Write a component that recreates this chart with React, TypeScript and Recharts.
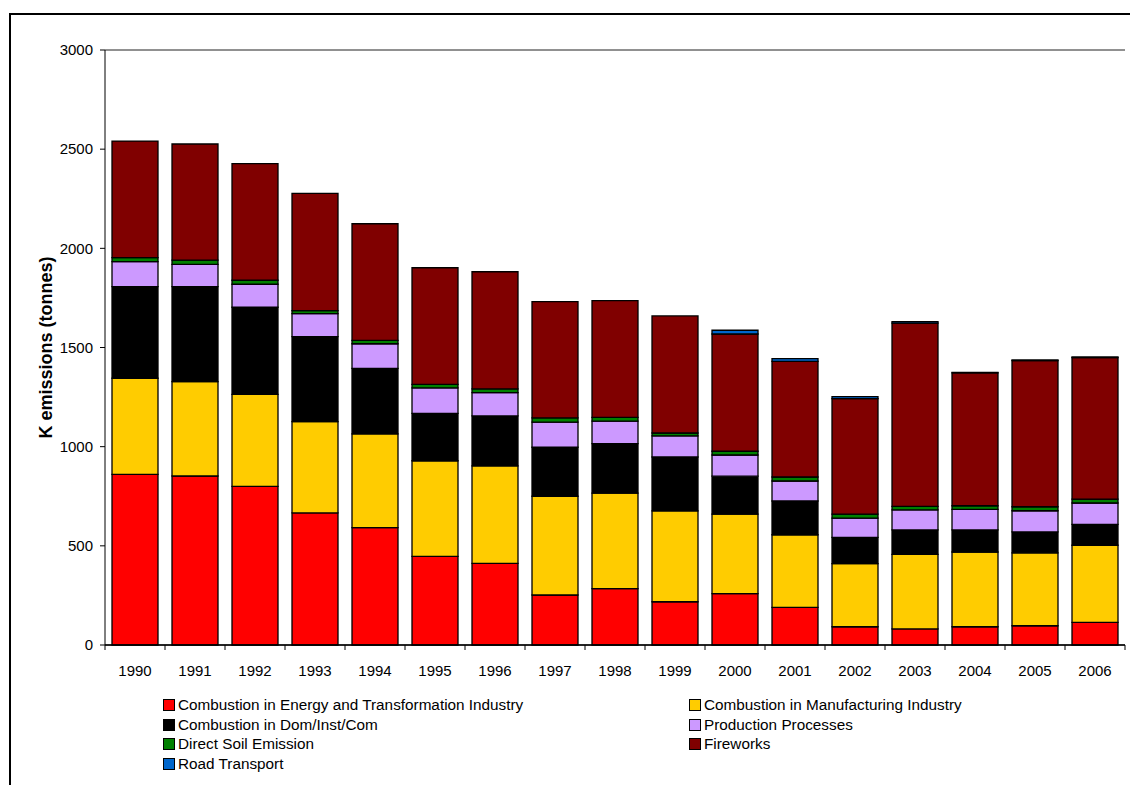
import React from "react";
import {
  BarChart,
  Bar,
  XAxis,
  YAxis,
  CartesianGrid,
  Legend,
} from "recharts";

const years = ["1990","1991","1992","1993","1994","1995","1996","1997","1998","1999","2000","2001","2002","2003","2004","2005","2006"];
const energy = [860, 852, 800, 666, 592, 447, 412, 252, 284, 218, 259, 190, 92, 81, 92, 97, 114];
const manufacturing = [485, 476, 464, 460, 472, 482, 491, 498, 482, 458, 401, 366, 318, 376, 377, 368, 389];
const domestic = [462, 479, 439, 429, 331, 239, 252, 247, 249, 272, 191, 170, 133, 123, 111, 105, 105];
const production = [126, 112, 116, 116, 124, 128, 117, 127, 114, 106, 107, 101, 97, 101, 104, 107, 108];
const soil = [20, 22, 20, 15, 17, 18, 19, 21, 19, 15, 19, 20, 20, 18, 18, 20, 19];
const fireworks = [588, 585, 588, 591, 588, 588, 591, 586, 588, 590, 591, 583, 582, 924, 670, 737, 714];
const road = [0, 0, 0, 0, 0, 0, 0, 0, 0, 0, 19, 14, 10, 7, 3, 3, 3];
const yTicks = [0, 500, 1000, 1500, 2000, 2500, 3000];

const series = [
  { key: "energy", name: "Combustion in Energy and Transformation Industry", color: "#FF0000", values: energy },
  { key: "manufacturing", name: "Combustion in Manufacturing Industry", color: "#FFCC00", values: manufacturing },
  { key: "domestic", name: "Combustion in Dom/Inst/Com", color: "#000000", values: domestic },
  { key: "production", name: "Production Processes", color: "#CC99FF", values: production },
  { key: "soil", name: "Direct Soil Emission", color: "#008000", values: soil },
  { key: "fireworks", name: "Fireworks", color: "#800000", values: fireworks },
  { key: "road", name: "Road Transport", color: "#0066CC", values: road },
];

const data = years.map((y, i) => {
  const row: any = { year: y };
  series.forEach((s) => (row[s.key] = s.values[i]));
  return row;
});

const FONT = "'Liberation Sans', Arial, sans-serif";

const XTick = (props: any) => {
  const { x, y, payload, index } = props;
  const half = 30;
  return (
    <g>
      <line x1={x - half} y1={y - 8} x2={x - half} y2={y - 3} stroke="#000" strokeWidth={1} />
      {index === years.length - 1 && (
        <line x1={x + half} y1={y - 8} x2={x + half} y2={y - 3} stroke="#000" strokeWidth={1} />
      )}
      <text x={x} y={y + 23} textAnchor="middle" fontSize={15} fill="#000" fontFamily={FONT}>
        {payload.value}
      </text>
    </g>
  );
};

const colWidths = [526, 420];

const renderLegend = () => {
  const rows: any[] = [];
  for (let i = 0; i < series.length; i += 2) rows.push(series.slice(i, i + 2));
  return (
    <div style={{ fontFamily: FONT, fontSize: 15.3, color: "#000", lineHeight: "19.7px" }}>
      {rows.map((r, ri) => (
        <div key={ri} style={{ display: "flex", height: 19.7, alignItems: "center" }}>
          {r.map((s: any, ci: number) => (
            <div key={s.key} style={{ width: colWidths[ci], flexShrink: 0, display: "flex", alignItems: "center" }}>
              <span
                style={{
                  display: "inline-block",
                  width: 10,
                  height: 10,
                  background: s.color,
                  border: "1px solid #000",
                  marginRight: 3,
                  flexShrink: 0,
                }}
              />
              <span style={{ whiteSpace: "nowrap" }}>{s.name}</span>
            </div>
          ))}
        </div>
      ))}
    </div>
  );
};

export default function App() {
  return (
    <div style={{ position: "absolute", left: 0, top: 0, width: 1130, height: 785, background: "#fff", overflow: "hidden" }}>
      <div
        style={{
          position: "absolute",
          left: 9,
          top: 13,
          width: 1140,
          height: 800,
          border: "2px solid #000",
          boxSizing: "border-box",
        }}
      />
      <div style={{ position: "absolute", left: 0, top: 0 }}>
        <BarChart
          width={1130}
          height={785}
          data={data}
          margin={{ top: 50, right: 5, bottom: 110, left: 0 }}
          barSize={46}
        >
          <CartesianGrid vertical={false} stroke="#222" strokeWidth={1} />
          <XAxis
            dataKey="year"
            height={30}
            axisLine={{ stroke: "#000", strokeWidth: 1.5 }}
            tickLine={false}
            tick={<XTick />}
            interval={0}
          />
          <YAxis
            yAxisId="left"
            width={105}
            domain={[0, 3000]}
            ticks={yTicks}
            interval={0}
            axisLine={{ stroke: "#000", strokeWidth: 1 }}
            tickLine={{ stroke: "#000" }}
            tickSize={5}
            tickMargin={7}
            tick={{ fontSize: 15, fill: "#000", fontFamily: FONT }}
            label={{
              value: "K emissions (tonnes)",
              angle: -90,
              position: "insideLeft",
              offset: 0,
              dx: 46,
              dy: 0,
              style: { fontSize: 18, fontWeight: "bold", fill: "#000", fontFamily: FONT, textAnchor: "middle" },
            }}
          />
          <YAxis
            yAxisId="right"
            orientation="right"
            width={0}
            domain={[0, 3000]}
            tick={false}
            tickLine={false}
            axisLine={{ stroke: "#888", strokeWidth: 1.5 }}
          />
          {series.map((s) => (
            <Bar
              key={s.key}
              yAxisId="left"
              dataKey={s.key}
              name={s.name}
              stackId="a"
              fill={s.color}
              stroke="#000"
              strokeWidth={1.3}
              isAnimationActive={false}
            />
          ))}
          <Legend
            content={renderLegend}
            layout="horizontal"
            verticalAlign="middle"
            align="center"
            wrapperStyle={{ position: "absolute", left: 163, top: 695, width: 960 }}
          />
        </BarChart>
      </div>
    </div>
  );
}
